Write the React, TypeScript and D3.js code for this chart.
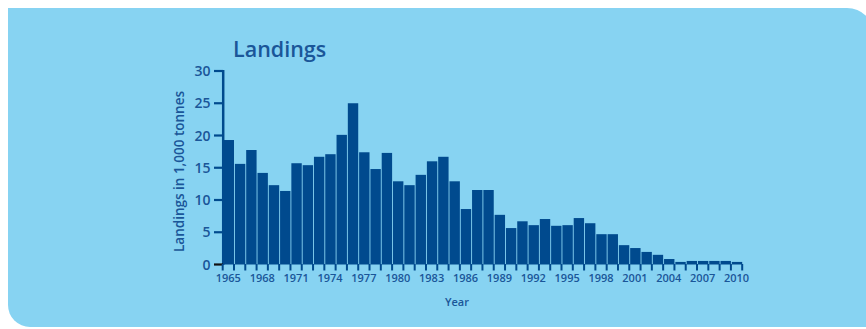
import React from "react";
import * as d3 from "d3";

const years: number[] = [
  1965, 1966, 1967, 1968, 1969, 1970, 1971, 1972, 1973, 1974, 1975, 1976,
  1977, 1978, 1979, 1980, 1981, 1982, 1983, 1984, 1985, 1986, 1987, 1988,
  1989, 1990, 1991, 1992, 1993, 1994, 1995, 1996, 1997, 1998, 1999, 2000,
  2001, 2002, 2003, 2004, 2005, 2006, 2007, 2008, 2009, 2010,
];
const landings: number[] = [
  19.3, 15.6, 17.75, 14.2, 12.3, 11.4, 15.7, 15.4, 16.7, 17.1, 20.1, 25.0,
  17.4, 14.8, 17.3, 12.9, 12.3, 13.9, 16.0, 16.7, 12.9, 8.6, 11.55, 11.55,
  7.7, 5.65, 6.7, 6.1, 7.05, 6.0, 6.1, 7.2, 6.4, 4.7, 4.7, 3.0,
  2.55, 1.95, 1.5, 0.85, 0.4, 0.55, 0.55, 0.55, 0.55, 0.4,
];
const yTicks: number[] = [0, 5, 10, 15, 20, 25, 30];
const xLabelYears: number[] = [1965, 1968, 1971, 1974, 1977, 1980, 1983, 1986, 1989, 1992, 1995, 1998, 2001, 2004, 2007, 2010];
const title = "Landings";
const yTitle = "Landings in 1,000 tonnes";
const xTitle = "Year";

const W = 866;
const H = 329;
const BG = "#87d3f2";
const BAR = "#004a8e";
const TEXT = "#1a5699";
const FONT = "'Open Sans', 'Noto Sans', sans-serif";

export default function App() {
  const xb = d3.scaleBand<number>().domain(years).range([222.7, 742.2]);
  const y = d3.scaleLinear().domain([0, 30]).range([264.5, 71]);
  const step = xb.step();
  const boundaries = d3.range(years.length + 1).map((i) => 222.7 + i * step);

  const bgPath = `M8,8 H847 A27,27 0 0 1 874,35 V327 H30 A22,22 0 0 1 8,305 Z`;

  return (
    <div style={{ position: "fixed", left: 0, top: 0, width: W, height: H }}>
      <svg width={W} height={H} style={{ display: "block" }} fontFamily={FONT}>
        <rect x={0} y={0} width={W} height={H} fill="#ffffff" />
        <path d={bgPath} fill={BG} />
        <text x={233} y={56.5} fill={TEXT} fontSize={21.5} fontWeight={600}>
          {title}
        </text>
        {years.map((yr, i) => (
          <rect
            key={yr}
            x={xb(yr)! + 0.9}
            y={y(landings[i])}
            width={step - 0.9}
            height={y(0) - y(landings[i])}
            fill={BAR}
          />
        ))}
        {/* y axis */}
        <line x1={223.2} x2={223.2} y1={70} y2={265} stroke={BAR} strokeWidth={2.5} />
        {yTicks.map((t) => (
          <g key={t}>
            <line
              x1={214}
              x2={223}
              y1={y(t)}
              y2={y(t)}
              stroke={t === 0 ? "#111111" : BAR}
              strokeWidth={2.2}
            />
            <text
              x={210.5}
              y={y(t) + 5}
              textAnchor="end"
              fill={TEXT}
              fontSize={14}
              fontWeight={600}
            >
              {t}
            </text>
          </g>
        ))}
        {/* x ticks */}
        {boundaries.map((bx, i) => (
          <line key={i} x1={bx} x2={bx} y1={264} y2={270.5} stroke={BAR} strokeWidth={2} />
        ))}
        {xLabelYears.map((yr) => (
          <text
            key={yr}
            x={xb(yr)! + step / 2}
            y={281.5}
            textAnchor="middle"
            fill={TEXT}
            fontSize={11}
            fontWeight={600}
          >
            {yr}
          </text>
        ))}
        <text x={457} y={305.5} textAnchor="middle" fill={TEXT} fontSize={11} fontWeight={600}>
          {xTitle}
        </text>
        <text
          transform={`translate(184,171.5) rotate(-90)`}
          textAnchor="middle"
          fill={TEXT}
          fontSize={13.5}
          fontWeight={600}
        >
          {yTitle}
        </text>
      </svg>
    </div>
  );
}
